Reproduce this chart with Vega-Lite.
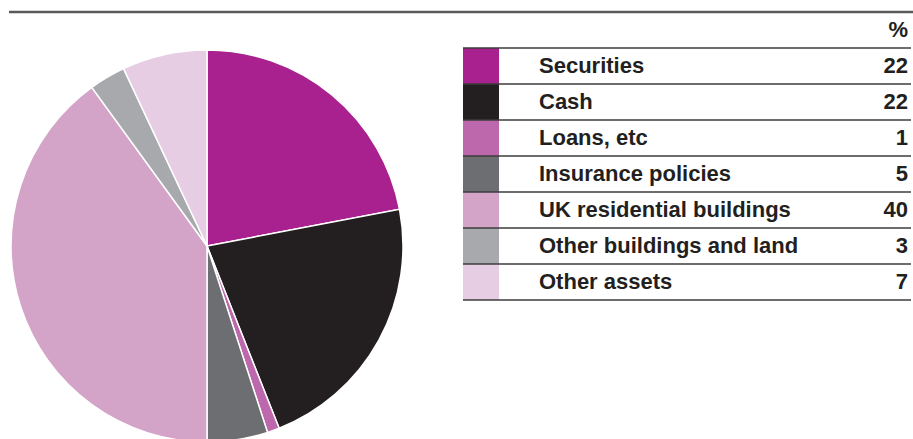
{
  "$schema": "https://vega.github.io/schema/vega-lite/v6.json",
  "padding": {"left": 7, "top": 0, "right": 0, "bottom": 0},
  "bounds": "flush",
  "spacing": 0,
  "config": {
    "view": {"stroke": null},
    "font": "Liberation Sans",
    "text": {"font": "Liberation Sans", "fontWeight": "bold", "fontSize": 22, "color": "#231F20", "baseline": "middle"}
  },
  "datasets": {
    "assets": [
      {"category": "Securities", "pct": 22, "order": 1},
      {"category": "Cash", "pct": 22, "order": 2},
      {"category": "Loans, etc", "pct": 1, "order": 3},
      {"category": "Insurance policies", "pct": 5, "order": 4},
      {"category": "UK residential buildings", "pct": 40, "order": 5},
      {"category": "Other buildings and land", "pct": 3, "order": 6},
      {"category": "Other assets", "pct": 7, "order": 7}
    ],
    "rows": [
      {"row": "%"},
      {"row": "Securities"},
      {"row": "Cash"},
      {"row": "Loans, etc"},
      {"row": "Insurance policies"},
      {"row": "UK residential buildings"},
      {"row": "Other buildings and land"},
      {"row": "Other assets"}
    ]
  },
  "vconcat": [
    {
      "width": 906,
      "height": 12,
      "data": {"values": [{"v": 0}]},
      "mark": {"type": "rule", "stroke": "#5a5a5a", "strokeWidth": 2.5},
      "encoding": {
        "y": {"field": "v", "type": "quantitative", "scale": {"domain": [0, 1]}, "axis": null}
      }
    },
    {
      "spacing": 58,
      "bounds": "flush",
      "hconcat": [
        {
          "width": 396,
          "height": 468,
          "data": {"name": "assets"},
          "mark": {"type": "arc", "outerRadius": 196, "stroke": "#ffffff", "strokeWidth": 1.5},
          "encoding": {
            "theta": {"field": "pct", "type": "quantitative", "stack": true},
            "order": {"field": "order", "type": "quantitative"},
            "color": {
              "field": "category", "type": "nominal", "legend": null,
              "scale": {
                "domain": ["Securities", "Cash", "Loans, etc", "Insurance policies", "UK residential buildings", "Other buildings and land", "Other assets"],
                "range": ["#A8218E", "#231F20", "#BD67AC", "#6D6E71", "#D3A3C8", "#A7A9AC", "#E6CDE3"]
              }
            }
          }
        },
        {
          "spacing": 0,
          "bounds": "flush",
          "hconcat": [
            {
              "width": 36,
              "height": 288,
              "layer": [
                {
                  "data": {"name": "assets"},
                  "mark": {"type": "rect"},
                  "encoding": {
                    "y": {"field": "category", "type": "nominal", "axis": null,
                      "scale": {"domain": ["%", "Securities", "Cash", "Loans, etc", "Insurance policies", "UK residential buildings", "Other buildings and land", "Other assets"], "paddingInner": 0, "paddingOuter": 0}},
                    "fill": {
                      "field": "category", "type": "nominal", "legend": null,
                      "scale": {
                        "domain": ["Securities", "Cash", "Loans, etc", "Insurance policies", "UK residential buildings", "Other buildings and land", "Other assets"],
                        "range": ["#A8218E", "#231F20", "#BD67AC", "#6D6E71", "#D3A3C8", "#A7A9AC", "#E6CDE3"]
                      }
                    }
                  }
                },
                {
                  "data": {"name": "rows"},
                  "mark": {"type": "rule", "stroke": "#3d3d3d", "strokeWidth": 1.5},
                  "encoding": {
                    "y": {"field": "row", "type": "nominal", "bandPosition": 1, "axis": null,
                      "scale": {"domain": ["%", "Securities", "Cash", "Loans, etc", "Insurance policies", "UK residential buildings", "Other buildings and land", "Other assets"], "paddingInner": 0, "paddingOuter": 0}}
                  }
                }
              ]
            },
            {
              "width": 40,
              "height": 288,
              "data": {"name": "rows"},
              "mark": {"type": "rule", "stroke": "#3d3d3d", "strokeWidth": 1.5},
              "encoding": {
                "y": {"field": "row", "type": "nominal", "bandPosition": 1, "axis": null,
                  "scale": {"domain": ["%", "Securities", "Cash", "Loans, etc", "Insurance policies", "UK residential buildings", "Other buildings and land", "Other assets"], "paddingInner": 0, "paddingOuter": 0}}
              }
            },
            {
              "width": 272,
              "height": 288,
              "layer": [
                {
                  "data": {"name": "rows"},
                  "mark": {"type": "rule", "stroke": "#3d3d3d", "strokeWidth": 1.5},
                  "encoding": {
                    "y": {"field": "row", "type": "nominal", "bandPosition": 1, "axis": null,
                      "scale": {"domain": ["%", "Securities", "Cash", "Loans, etc", "Insurance policies", "UK residential buildings", "Other buildings and land", "Other assets"], "paddingInner": 0, "paddingOuter": 0}}
                  }
                },
                {
                  "data": {"name": "assets"},
                  "mark": {"type": "text", "align": "left"},
                  "encoding": {
                    "y": {"field": "category", "type": "nominal", "axis": null,
                      "scale": {"domain": ["%", "Securities", "Cash", "Loans, etc", "Insurance policies", "UK residential buildings", "Other buildings and land", "Other assets"], "paddingInner": 0, "paddingOuter": 0}},
                    "x": {"datum": 0, "type": "quantitative", "scale": {"domain": [0, 1]}, "axis": null},
                    "text": {"field": "category", "type": "nominal"}
                  }
                }
              ]
            },
            {
              "width": 100,
              "height": 288,
              "layer": [
                {
                  "data": {"name": "rows"},
                  "mark": {"type": "rule", "stroke": "#3d3d3d", "strokeWidth": 1.5},
                  "encoding": {
                    "y": {"field": "row", "type": "nominal", "bandPosition": 1, "axis": null,
                      "scale": {"domain": ["%", "Securities", "Cash", "Loans, etc", "Insurance policies", "UK residential buildings", "Other buildings and land", "Other assets"], "paddingInner": 0, "paddingOuter": 0}}
                  }
                },
                {
                  "data": {"name": "assets"},
                  "mark": {"type": "text", "align": "right", "dx": -3},
                  "encoding": {
                    "y": {"field": "category", "type": "nominal", "axis": null,
                      "scale": {"domain": ["%", "Securities", "Cash", "Loans, etc", "Insurance policies", "UK residential buildings", "Other buildings and land", "Other assets"], "paddingInner": 0, "paddingOuter": 0}},
                    "x": {"datum": 1, "type": "quantitative", "scale": {"domain": [0, 1]}, "axis": null},
                    "text": {"field": "pct", "type": "quantitative"}
                  }
                },
                {
                  "data": {"values": [{"h": "%"}]},
                  "mark": {"type": "text", "align": "right", "dx": -3},
                  "encoding": {
                    "y": {"field": "h", "type": "nominal", "axis": null,
                      "scale": {"domain": ["%", "Securities", "Cash", "Loans, etc", "Insurance policies", "UK residential buildings", "Other buildings and land", "Other assets"], "paddingInner": 0, "paddingOuter": 0}},
                    "x": {"datum": 1, "type": "quantitative", "scale": {"domain": [0, 1]}, "axis": null},
                    "text": {"field": "h", "type": "nominal"}
                  }
                }
              ]
            }
          ]
        }
      ]
    }
  ]
}
